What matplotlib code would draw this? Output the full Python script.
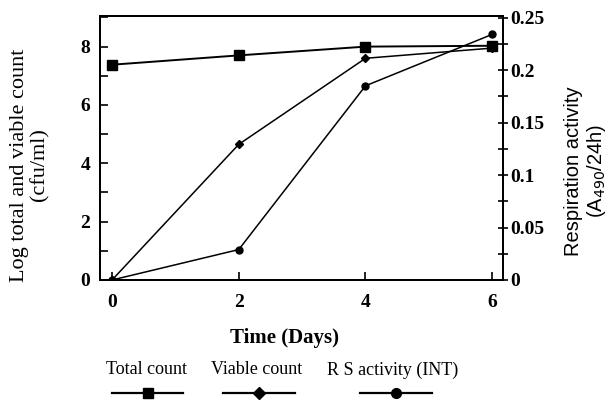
import numpy as np
import matplotlib
matplotlib.use("Agg")
import matplotlib.pyplot as plt
from matplotlib.lines import Line2D
from matplotlib.ticker import MultipleLocator

plt.rcParams["font.family"] = ["Liberation Serif", "DejaVu Serif"]

days = [0, 2, 4, 6]
total_count = [7.38, 7.7, 8.0, 8.03]
viable_count = [0.0, 4.65, 7.6, 7.95]
rs_activity = [0.0, 0.029, 0.185, 0.234]

legend_labels = ["Total count", "Viable count", "R S activity (INT)"]

W, H = 614, 403
fig = plt.figure(figsize=(W / 100, H / 100), dpi=100)
ax = fig.add_axes([100 / W, 1 - 280 / H, 403 / W, 264 / H])
ax2 = ax.twinx()

ax.plot(days, total_count, color="black", lw=1.4, marker="s", ms=6.5)
ax.plot(days, viable_count, color="black", lw=1.1, marker="D", ms=4.5)
ax2.plot(days, rs_activity, color="black", lw=1.1, marker="o", ms=5)

ax.set_xlim(-0.19, 6.17)
ax.set_ylim(0, 9.05)
ax2.set_ylim(0, 0.2515)

ax.set_xticks(days)
ax.set_yticks([0, 2, 4, 6, 8])
ax.yaxis.set_minor_locator(MultipleLocator(1))
ax2.set_yticks([0, 0.05, 0.1, 0.15, 0.2, 0.25])
ax2.set_yticklabels(["0", "0.05", "0.1", "0.15", "0.2", "0.25"])
ax2.yaxis.set_minor_locator(MultipleLocator(0.025))

ax.tick_params(axis="x", direction="in", length=6, labelsize=14, pad=10, width=1.2)
ax.tick_params(axis="y", which="both", direction="in", length=6, labelsize=14,
               pad=7, width=1.2)
ax2.tick_params(axis="y", which="both", direction="inout", length=7, labelsize=14,
                pad=2, width=1.2)
for lab in ax.get_xticklabels() + ax.get_yticklabels() + ax2.get_yticklabels():
    lab.set_fontweight("bold")

for a in (ax, ax2):
    for s in a.spines.values():
        s.set_linewidth(1.4)

# axis titles placed to match the reference
fig.text(30 / W, 1 - 165 / H, "Log total and viable count\n(cfu/ml)",
         rotation=90, ha="center", va="center", fontsize=16, linespacing=1.1)
fig.text(586 / W, 1 - 171 / H, "Respiration activity\n(A$_{490}$/24h)",
         rotation=90, ha="center", va="center", fontsize=14.5,
         family=["Liberation Sans"], linespacing=1.15)
fig.text(285 / W, 1 - 338 / H, "Time (Days)", ha="center", va="center",
         fontsize=15, fontweight="bold")

# legend drawn below the axes: label above each line sample
label_x = [146, 257, 393]
line_x = [(112, 183), (223, 295), (360, 432)]
markers = [("s", 7.5), ("D", 6), ("o", 7)]
for lab, lx, (x0, x1), (m, ms) in zip(legend_labels, label_x, line_x, markers):
    fig.text(lx / W, 1 - 370 / H, lab, ha="center", va="center", fontsize=13)
    fig.add_artist(Line2D([x0 / W, x1 / W], [1 - 393 / H] * 2, color="black",
                          lw=1.6, transform=fig.transFigure))
    fig.add_artist(Line2D([(x0 + x1) / 2 / W], [1 - 393 / H], color="black",
                          marker=m, ms=ms, transform=fig.transFigure))

fig.savefig("out.png", dpi=100)
